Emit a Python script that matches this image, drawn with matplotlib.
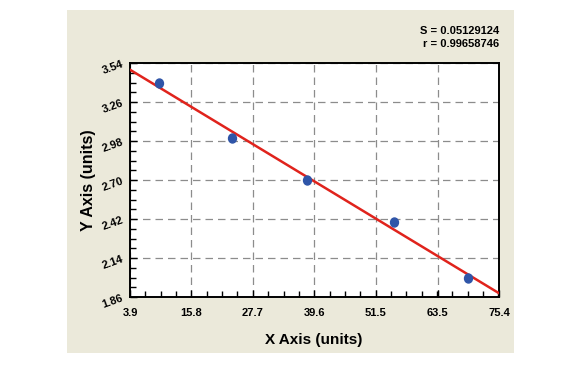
import numpy as np
import matplotlib
matplotlib.use("Agg")
import matplotlib.pyplot as plt
from matplotlib.patches import Rectangle
from matplotlib.path import Path
from matplotlib.transforms import Affine2D
from matplotlib.ticker import AutoMinorLocator

x_vals = [9.5, 23.7, 38.2, 55.1, 69.4]
y_vals = [3.40, 3.00, 2.70, 2.40, 2.00]
x_ticks = [3.9, 15.8, 27.7, 39.6, 51.5, 63.5, 75.4]
y_ticks = [1.86, 2.14, 2.42, 2.70, 2.98, 3.26, 3.54]
stats = ["S = 0.05129124", "r = 0.99658746"]

plt.rcParams['font.family'] = ['Liberation Sans', 'DejaVu Sans']

W, H = 574, 367
fig = plt.figure(figsize=(W/100, H/100), dpi=100)
fig.patch.set_facecolor('white')
fig.patches.append(Rectangle((67/W, 14/H), 447/W, 343/H, transform=fig.transFigure,
                             facecolor='#ebe9da', edgecolor='none', zorder=-10))

ax = fig.add_axes([130/W, 70/H, 369/W, 234/H])
ax.set_zorder(1)
ax.set_facecolor('white')
ax.set_xlim(x_ticks[0], x_ticks[-1])
ax.set_ylim(y_ticks[0], y_ticks[-1])
ax.set_xticks(x_ticks)
ax.set_yticks(y_ticks)
ax.set_xticklabels([f"{v:.1f}" for v in x_ticks], fontsize=8, fontweight='bold')
ax.set_yticklabels([f"{v:.2f}" for v in y_ticks], fontsize=8, fontweight='bold', rotation=20)
ax.xaxis.set_minor_locator(AutoMinorLocator(4))
ax.yaxis.set_minor_locator(AutoMinorLocator(4))
ax.tick_params(which='both', direction='in', color='black')
ax.tick_params(which='major', length=5, width=1)
ax.tick_params(which='minor', length=4, width=1)
ax.tick_params(axis='x', pad=8)
ax.tick_params(axis='y', pad=4)
for s in ax.spines.values():
    s.set_linewidth(1.4)
ax.grid(True, which='major', linestyle=(0, (6, 4)), color='#8c8c8c', linewidth=0.9)
ax.set_axisbelow(True)

coef = np.polyfit(x_vals, y_vals, 1)
xl = np.array([x_ticks[0], x_ticks[-1]])
ax.plot(xl, np.polyval(coef, xl), color='#e0231c', linewidth=1.8, zorder=3)

circ = Path.unit_circle()
oval = Path(Affine2D().scale(0.88, 1.0).transform(circ.vertices), circ.codes)
ax.scatter(x_vals, y_vals, s=42, marker=oval, color='#2f55a8', zorder=4, clip_on=False)

ax.set_xlabel("X Axis (units)", fontsize=11, fontweight='bold', va='center')
ax.set_ylabel("Y Axis (units)", fontsize=11.5, fontweight='bold', va='center')
ax.xaxis.set_label_coords((314-130)/369, -(340-297)/234)
ax.yaxis.set_label_coords((88-130)/369, 0.5)

fig.text(499/W, 1 - 31/H, stats[0], ha='right', va='center', fontsize=8, fontweight='bold')
fig.text(499/W, 1 - 44/H, stats[1], ha='right', va='center', fontsize=8, fontweight='bold')

fig.savefig("out.png", dpi=100)
